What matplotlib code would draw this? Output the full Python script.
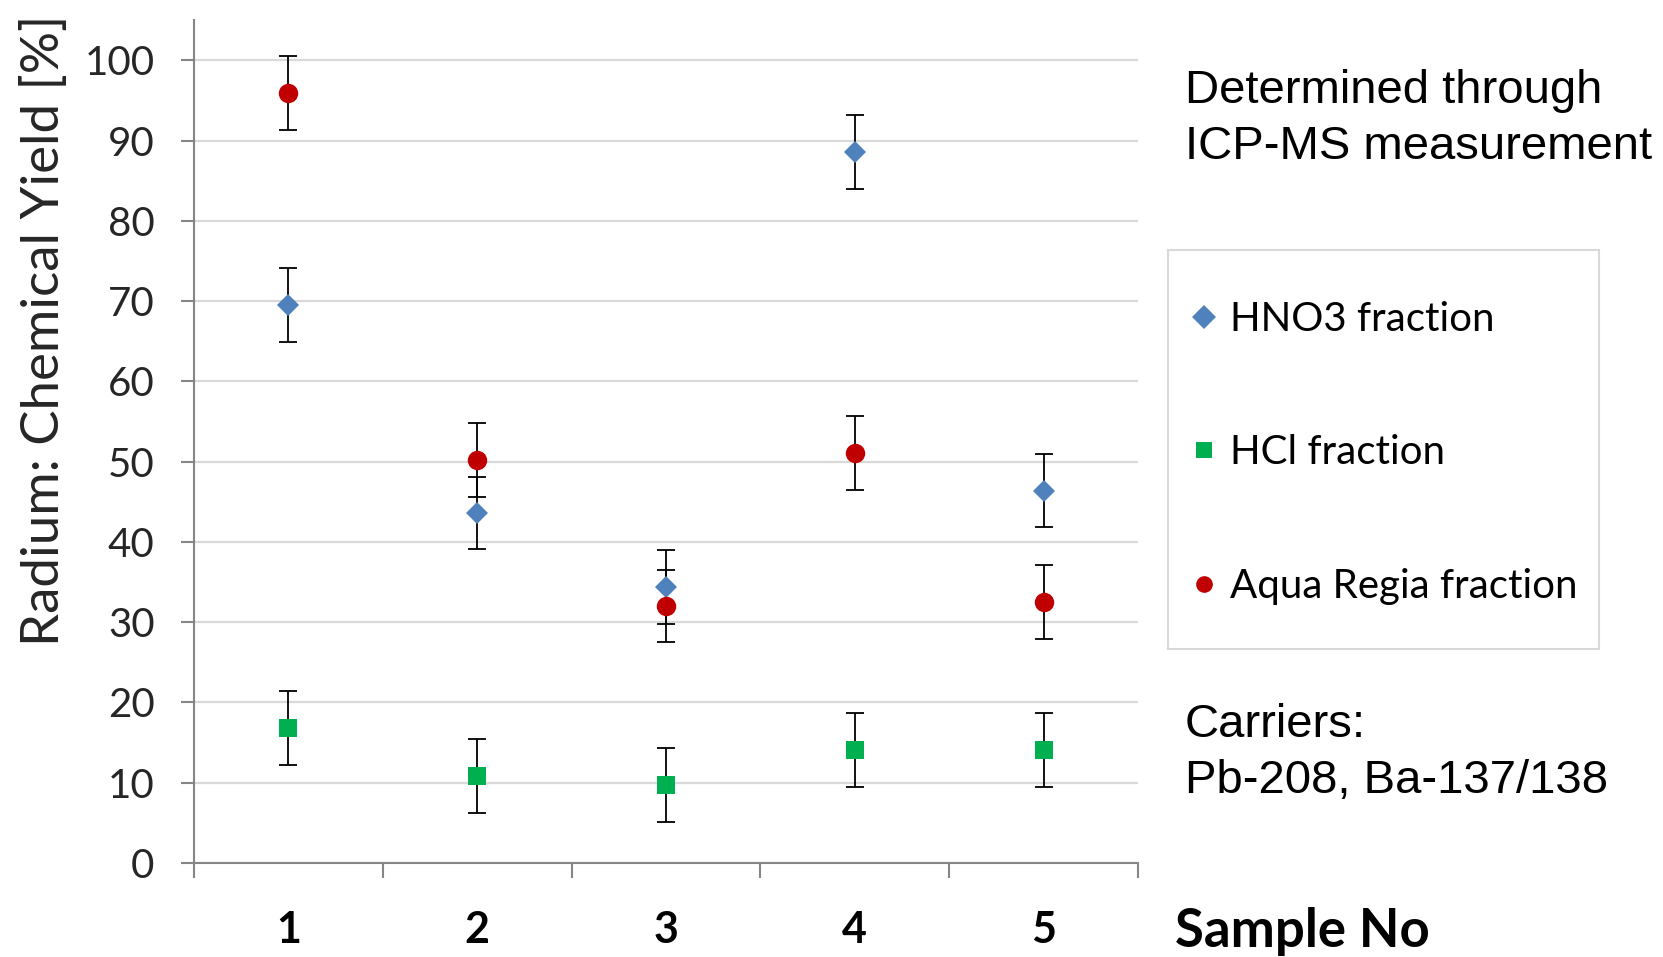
import matplotlib
matplotlib.use("Agg")
import matplotlib.pyplot as plt
from matplotlib.patches import Rectangle

# data
samples = [1, 2, 3, 4, 5]
hno3 = [69.5, 43.6, 34.4, 88.6, 46.4]
hcl = [16.8, 10.8, 9.7, 14.1, 14.1]
aqua = [95.9, 50.2, 32.0, 51.1, 32.5]
hno3_err = [4.6, 4.5, 4.6, 4.6, 4.6]
hcl_err = [4.6, 4.6, 4.6, 4.6, 4.6]
aqua_err = [4.6, 4.6, 4.5, 4.6, 4.6]
labels = ["HNO3 fraction", "HCl fraction", "Aqua Regia fraction"]
colors = ["#4f81bd", "#00b050", "#c00000"]
markers = ["D", "s", "o"]
msizes = [11.5, 13, 14]

calibri = ["Lato", "DejaVu Sans"]
arial = ["Liberation Sans", "DejaVu Sans"]

fig = plt.figure(figsize=(16.63, 9.57), dpi=100)
ax = fig.add_axes([0.1167, 0.0982, 0.5676, 0.8808])

handles = []
for y, e, c, m, s, lab in zip([hno3, hcl, aqua], [hno3_err, hcl_err, aqua_err],
                               colors, markers, msizes, labels):
    ax.errorbar(samples, y, yerr=e, fmt="none", ecolor="black", elinewidth=1.3,
                capsize=6.5, capthick=1.3, zorder=3)
    h, = ax.plot(samples, y, linestyle="none", marker=m, ms=s, color=c,
                 markeredgewidth=0, zorder=4, label=lab)
    handles.append(h)

ax.set_xlim(0.5, 5.5)
ax.set_ylim(0, 105)
ax.set_yticks(range(0, 101, 10))
ax.set_xticks(samples)
ax.set_xticks([0.5, 1.5, 2.5, 3.5, 4.5, 5.5], minor=True)
ax.grid(axis="y", color="#d9d9d9", linewidth=1.6, zorder=0)
ax.set_axisbelow(True)

for sp in ["top", "right"]:
    ax.spines[sp].set_visible(False)
for sp in ["left", "bottom"]:
    ax.spines[sp].set_color("#868686")
    ax.spines[sp].set_linewidth(1.5)

ax.tick_params(axis="y", length=9.5, width=1.5, color="#868686", pad=19,
               labelsize=29, labelcolor="#262626")
ax.tick_params(axis="x", which="major", length=0, pad=34, labelsize=31)
ax.tick_params(axis="x", which="minor", length=11, width=1.5, color="#868686")
for t in ax.get_yticklabels():
    t.set_family(calibri)
for t in ax.get_xticklabels():
    t.set_family(calibri)
    t.set_fontweight("bold")

fig.text(44.5 / 1663, 1 - 330 / 957, "Radium: Chemical Yield [%]", rotation=90,
         ha="center", va="center", fontsize=38, family=calibri, color="#262626")
fig.text(1175 / 1663, 1 - 931 / 957, "Sample No", ha="left", va="center",
         fontsize=38, fontweight="bold", family=calibri)

fig.text(1185 / 1663, 1 - 119 / 957, "Determined through\nICP-MS measurement",
         ha="left", va="center", fontsize=34, family=arial, linespacing=1.33)
fig.text(1185 / 1663, 1 - 753 / 957, "Carriers:\nPb-208, Ba-137/138",
         ha="left", va="center", fontsize=34, family=arial, linespacing=1.33)

# legend box
fig.patches.append(Rectangle((1168 / 1663, 1 - 649 / 957), 431 / 1663, 399 / 957,
                             transform=fig.transFigure, facecolor="white",
                             edgecolor="#d9d9d9", linewidth=1.5))
leg = fig.legend(handles=handles, loc="center left",
                 bbox_to_anchor=(1188 / 1663, 1 - 453 / 957), frameon=False,
                 prop={"family": calibri, "size": 29}, labelspacing=2.4,
                 handlelength=0.8, handletextpad=0.25, borderpad=0,
                 borderaxespad=0)
for h in leg.legend_handles:
    h.set_markersize(12)

fig.savefig("out.png", dpi=100)
